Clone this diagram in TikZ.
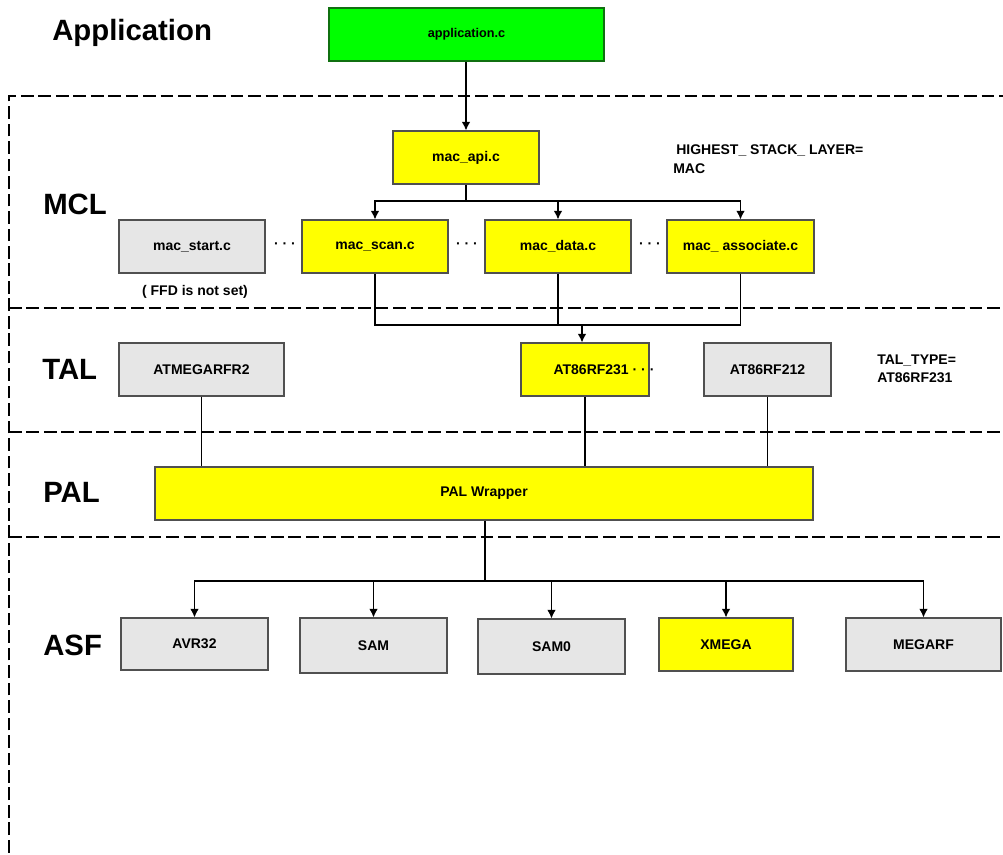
\documentclass[tikz,border=0pt]{standalone}
\usepackage{fontspec}
\setmainfont{Liberation Sans}
\usetikzlibrary{arrows.meta}
\definecolor{boxgray}{HTML}{E6E6E6}
\definecolor{boxline}{HTML}{505050}
\definecolor{yel}{HTML}{FFFF00}
\definecolor{grn}{HTML}{00FF00}
\definecolor{grnline}{HTML}{107010}
\begin{document}
\begin{tikzpicture}[x=0.75pt,y=-0.75pt,
  box/.style={draw=boxline, line width=0.8pt, inner sep=0pt, minimum height=39.75pt,
    font=\bfseries\fontsize{10.5}{12}\selectfont},
  graybox/.style={box, fill=boxgray},
  yelbox/.style={box, fill=yel},
  layer/.style={anchor=west, inner sep=0pt, font=\bfseries\fontsize{22}{26}\selectfont},
  note/.style={anchor=west, inner sep=0pt, font=\bfseries\fontsize{10.5}{12}\selectfont},
  conn/.style={line width=1pt},
  arr/.style={conn, -{Latex[length=6.5pt,width=6.5pt]}},
  sep/.style={line width=2.2pt, dash pattern=on 9.5pt off 3.6pt}]
\clip (0,0) rectangle (1003,855);
\fill[white] (0,0) rectangle (1003,855);

% layer separators
\draw[sep] (9,870) -- (9,96) -- (1010,96);
\draw[sep] (9,308) -- (1010,308);
\draw[sep] (9,432) -- (1010,432);
\draw[sep] (9,537) -- (1010,537);

% layer labels
\node[layer] (lApp) at (52,33) {Application};
\node[layer] (lMCL) at (43,204) {MCL};
\node[layer] (lTAL) at (42,369) {TAL};
\node[layer] (lPAL) at (43,492) {PAL};
\node[layer] (lASF) at (43,645) {ASF};

% application
\node[box, fill=grn, draw=grnline, minimum width=206.25pt, font=\bfseries\fontsize{9.5}{11}\selectfont] (app) at (466.5,34.5) {application.c};

% MCL
\node[yelbox, minimum width=109.5pt] (api) at (466,157.5) {mac\_api.c};
\node[note] (hsl1) at (676,150) {HIGHEST\_ STACK\_ LAYER=};
\node[note] (hsl2) at (673,169) {MAC};

\node[graybox, minimum width=109.5pt] (start) at (192,246.5) {mac\_start.c};
\node[yelbox, minimum width=109.5pt] (scan) at (375,246.5) {mac\_scan.c};
\node[yelbox, minimum width=109.5pt] (data) at (558,246.5) {mac\_data.c};
\node[yelbox, minimum width=110.25pt] (assoc) at (740.5,246.5) {mac\_ associate.c};
\node[note, anchor=center] (d1) at (285,246) {· · ·};
\node[note, anchor=center] (d2) at (467,246) {· · ·};
\node[note, anchor=center] (d3) at (650,246) {· · ·};
\node[note, anchor=center] (ffd) at (195,292) {( FFD is not set)};

% TAL
\node[graybox, minimum width=123.75pt] (atmega) at (201.5,369.5) {ATMEGARFR2};
\node[yelbox, minimum width=96pt] (at231) at (585,369.5) {};
\node[note, anchor=center] (at231t) at (604,369.5) {AT86RF231 · · ·};
\node[graybox, minimum width=95.25pt] (at212) at (767.5,369.5) {AT86RF212};
\node[note] (tt1) at (877,361) {TAL\_TYPE=};
\node[note] (tt2) at (877,378) {AT86RF231};

% PAL
\node[yelbox, minimum width=493.5pt] (pal) at (484,493.5) {PAL Wrapper};

% ASF
\node[graybox, minimum width=110.25pt, minimum height=39pt] (avr) at (194.5,644) {AVR32};
\node[graybox, minimum width=110.25pt, minimum height=41.25pt] (sam) at (373.5,645.5) {SAM};
\node[graybox, minimum width=110.25pt, minimum height=41.25pt] (sam0) at (551.5,646.5) {SAM0};
\node[yelbox, minimum width=100.5pt] (xmega) at (726,644.5) {XMEGA};
\node[graybox, minimum width=116.25pt] (megarf) at (923.5,644.5) {MEGARF};

% connectors
\coordinate (b1) at (466,201);
\coordinate (b2) at (582,325);
\coordinate (b3) at (485,581);
\draw[arr] (app.south -| api.north) -- (api.north);
\draw[conn] (api.south) -- (b1);
\draw[arr] (b1) -| (scan.north);
\draw[arr] (b1) -| (data.north);
\draw[arr] (b1) -| (assoc.north);
\draw[conn] (scan.south) |- (b2);
\draw[conn] (data.south) |- (b2);
\draw[conn] (assoc.south) |- (b2);
\draw[arr] (b2) -- (b2 |- at231.north);
\draw[conn] (atmega.south) -- (atmega.south |- pal.north);
\draw[conn] (at231.south) -- (at231.south |- pal.north);
\draw[conn] (at212.south) -- (at212.south |- pal.north);
\draw[conn] (pal.south -| b3) -- (b3);
\draw[arr] (b3) -| (avr.north);
\draw[arr] (b3) -| (sam.north);
\draw[arr] (b3) -| (sam0.north);
\draw[arr] (b3) -| (xmega.north);
\draw[arr] (b3) -| (megarf.north);
\end{tikzpicture}
\end{document}
